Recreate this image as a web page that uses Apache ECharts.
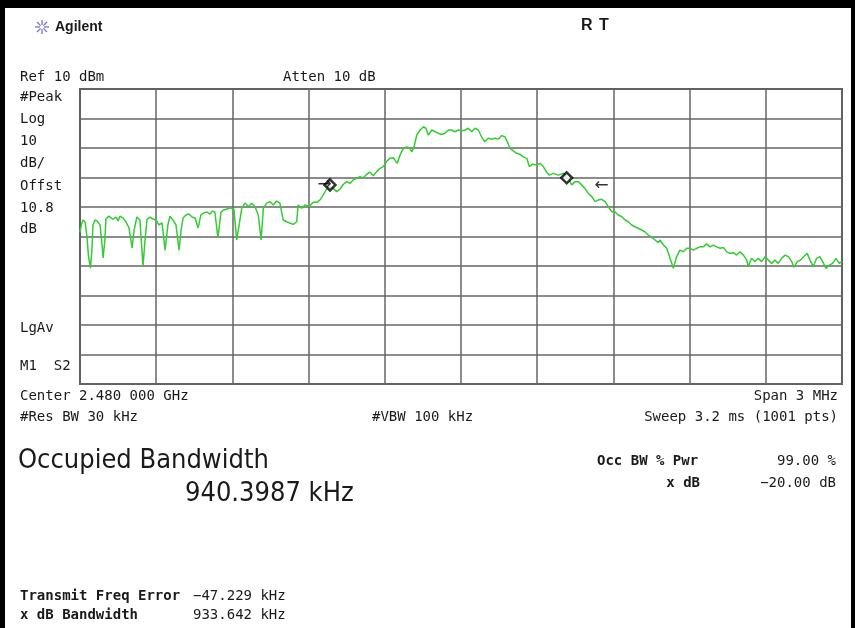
<!DOCTYPE html>
<html>
<head>
<meta charset="utf-8">
<script src="https://cdn.jsdelivr.net/npm/echarts@6/dist/echarts.min.js"></script>
<style>
html, body { margin: 0; padding: 0; background: #fff; }
#chart { width: 855px; height: 628px; }
</style>
</head>
<body>
<div id="chart"></div>
<script>
// sweep settings
const centerMHz = 2480;
const spanKHz = 3000;
const refLevel = 10;
const dbPerDiv = 10;

// trace (MHz, dBm)
const traceFreqMHz = [
  2478.500, 2478.506, 2478.512, 2478.520, 2478.528, 2478.533, 2478.541, 2478.547, 2478.551, 2478.559,
  2478.567, 2478.579, 2478.587, 2478.591, 2478.598, 2478.602, 2478.614, 2478.622, 2478.630, 2478.642,
  2478.650, 2478.657, 2478.669, 2478.681, 2478.693, 2478.705, 2478.713, 2478.724, 2478.736, 2478.748,
  2478.756, 2478.764, 2478.776, 2478.787, 2478.799, 2478.811, 2478.823, 2478.835, 2478.846, 2478.854,
  2478.866, 2478.878, 2478.890, 2478.898, 2478.906, 2478.917, 2478.929, 2478.941, 2478.953, 2478.965,
  2478.976, 2478.988, 2479.000, 2479.012, 2479.020, 2479.031, 2479.043, 2479.055, 2479.067, 2479.079,
  2479.091, 2479.098, 2479.106, 2479.117, 2479.137, 2479.150, 2479.163, 2479.176, 2479.189, 2479.202,
  2479.213, 2479.222, 2479.235, 2479.248, 2479.261, 2479.274, 2479.287, 2479.300, 2479.314, 2479.327,
  2479.340, 2479.353, 2479.359, 2479.373, 2479.386, 2479.402, 2479.418, 2479.432, 2479.445, 2479.458,
  2479.471, 2479.484, 2479.497, 2479.511, 2479.524, 2479.537, 2479.550, 2479.563, 2479.576, 2479.589,
  2479.602, 2479.615, 2479.629, 2479.642, 2479.655, 2479.668, 2479.681, 2479.694, 2479.707, 2479.720,
  2479.734, 2479.749, 2479.760, 2479.773, 2479.787, 2479.799, 2479.806, 2479.815, 2479.826, 2479.839,
  2479.852, 2479.862, 2479.871, 2479.885, 2479.898, 2479.911, 2479.924, 2479.937, 2479.950, 2479.963,
  2479.976, 2479.989, 2480.003, 2480.016, 2480.029, 2480.042, 2480.055, 2480.068, 2480.081, 2480.094,
  2480.107, 2480.121, 2480.134, 2480.147, 2480.160, 2480.173, 2480.182, 2480.193, 2480.206, 2480.219,
  2480.232, 2480.245, 2480.259, 2480.269, 2480.282, 2480.298, 2480.311, 2480.324, 2480.337, 2480.348,
  2480.363, 2480.383, 2480.403, 2480.422, 2480.436, 2480.449, 2480.462, 2480.475, 2480.488, 2480.501,
  2480.515, 2480.528, 2480.541, 2480.554, 2480.567, 2480.580, 2480.593, 2480.606, 2480.619, 2480.633,
  2480.646, 2480.659, 2480.672, 2480.685, 2480.698, 2480.711, 2480.724, 2480.737, 2480.751, 2480.764,
  2480.777, 2480.783, 2480.797, 2480.810, 2480.823, 2480.836, 2480.849, 2480.862, 2480.875, 2480.889,
  2480.902, 2480.915, 2480.928, 2480.941, 2480.954, 2480.967, 2480.980, 2480.993, 2481.007, 2481.020,
  2481.033, 2481.046, 2481.059, 2481.072, 2481.085, 2481.098, 2481.112, 2481.125, 2481.131, 2481.144,
  2481.157, 2481.170, 2481.184, 2481.197, 2481.210, 2481.223, 2481.236, 2481.249, 2481.262, 2481.276,
  2481.289, 2481.302, 2481.311, 2481.324, 2481.337, 2481.350, 2481.363, 2481.374, 2481.387, 2481.400,
  2481.413, 2481.424, 2481.437, 2481.450, 2481.463, 2481.476, 2481.489, 2481.499
];
const traceLevel = [
  -38.5, -35.8, -34.4, -35.1, -40.5, -46.3, -50.7, -44.6, -36.1, -34.4,
  -34.7, -36.1, -42.9, -47.3, -41.2, -34.1, -33.1, -33.7, -34.1, -33.4,
  -34.7, -33.1, -33.7, -35.1, -37.1, -43.9, -37.8, -33.4, -34.4, -50.0,
  -41.2, -34.1, -33.4, -34.1, -34.4, -36.1, -35.4, -44.6, -36.1, -33.1,
  -34.4, -36.1, -44.6, -37.8, -33.7, -32.7, -32.4, -33.4, -33.7, -37.1,
  -32.7, -32.0, -31.7, -32.4, -31.4, -31.7, -40.5, -31.7, -31.0, -30.7,
  -30.3, -30.0, -30.7, -41.2, -30.4, -28.6, -29.9, -28.7, -29.9, -32.7,
  -41.2, -30.4, -28.7, -28.2, -29.3, -28.0, -28.7, -34.4, -35.0, -35.5,
  -35.9, -35.0, -29.3, -30.4, -29.3, -29.9, -28.4, -28.4, -27.6, -25.9,
  -23.9, -23.1, -23.7, -24.8, -23.9, -22.3, -21.4, -22.0, -20.8, -20.3,
  -19.7, -20.1, -18.9, -18.2, -19.4, -18.0, -16.9, -16.3, -14.6, -13.5,
  -13.3, -15.2, -12.4, -10.1, -9.6, -10.1, -11.3, -9.6, -5.6, -3.9,
  -2.8, -3.3, -5.6, -3.9, -4.5, -5.0, -5.4, -5.0, -3.9, -3.9,
  -4.5, -3.9, -4.2, -3.9, -3.3, -4.5, -3.3, -3.9, -6.2, -7.9,
  -6.7, -7.0, -6.7, -7.0, -5.8, -6.2, -7.9, -10.1, -11.0, -11.8,
  -12.1, -13.0, -13.5, -16.3, -15.5, -15.8, -15.2, -16.3, -18.2, -19.2,
  -18.6, -19.2, -18.6, -20.3, -22.5, -21.4, -21.4, -22.5, -23.7, -25.4,
  -26.5, -28.2, -27.6, -27.4, -28.2, -29.9, -31.6, -31.6, -32.7, -33.3,
  -34.4, -35.0, -36.1, -36.7, -37.2, -37.8, -38.4, -39.5, -40.3, -41.2,
  -42.1, -41.2, -42.9, -44.0, -47.4, -50.8, -46.8, -44.6, -45.2, -44.0,
  -44.0, -44.6, -44.0, -43.5, -43.5, -42.5, -43.5, -42.9, -43.5, -44.0,
  -43.7, -45.2, -45.7, -45.5, -46.3, -45.2, -46.3, -48.0, -50.2, -47.4,
  -48.5, -47.4, -48.5, -46.8, -48.0, -49.1, -48.0, -49.1, -47.4, -46.3,
  -46.8, -48.5, -50.4, -48.5, -48.0, -46.8, -45.7, -48.0, -50.2, -47.4,
  -46.8, -48.5, -50.8, -49.7, -49.1, -47.4, -49.1, -48.5
];

// occupied bandwidth markers and arrows
const markerFreqMHz = [2479.484, 2480.416];
const markerLevel = [-22.5, -20.1];
const arrowFreqMHz = [2479.463, 2480.554];
const arrowLevel = [-22.5, -22.7];
const arrowText = ['→', '←'];

const toKHz = f => Math.round((f - centerMHz) * 1e6) / 1000;
const traceData = traceFreqMHz.map((f, i) => [toKHz(f), traceLevel[i]]);
const markerData = markerFreqMHz.map((f, i) => [toKHz(f), markerLevel[i]]);
const arrowData = arrowFreqMHz.map((f, i) => ({ value: [toKHz(f), arrowLevel[i]], label: { formatter: arrowText[i] } }));

const mono = '14px "DejaVu Sans Mono"';
const monoBold = 'bold 14px "DejaVu Sans Mono"';
const big = '27px "DejaVu Sans Condensed"';

function txt(x, y, text, font, align) {
  return {
    type: 'text', x: x, y: y, z: 10,
    style: { text: text, font: font, fill: '#1a1a1a', textAlign: align || 'left', textVerticalAlign: 'middle' }
  };
}

// logo spokes
const spokes = [];
for (let k = 0; k < 8; k++) {
  const a = k * Math.PI / 4;
  spokes.push({
    type: 'line', z: 10,
    shape: { x1: 42 + Math.cos(a) * 2, y1: 27 + Math.sin(a) * 2, x2: 42 + Math.cos(a) * 7, y2: 27 + Math.sin(a) * 7 },
    style: { stroke: '#6f78d8', lineWidth: 1.3 }
  });
}

const chart = echarts.init(document.getElementById('chart'));
chart.setOption({
  backgroundColor: '#fff',
  animation: false,
  grid: {
    left: 80, top: 89, right: 13, bottom: 244,
    show: true, borderColor: '#5a5a5a', borderWidth: 2, backgroundColor: 'transparent'
  },
  xAxis: {
    type: 'value', min: -spanKHz / 2, max: spanKHz / 2, interval: 300,
    axisLine: { show: false }, axisTick: { show: false }, axisLabel: { show: false },
    splitLine: { show: true, lineStyle: { color: '#666', width: 1.5 } }
  },
  yAxis: {
    type: 'value', min: refLevel - 10 * dbPerDiv, max: refLevel, interval: dbPerDiv,
    axisLine: { show: false }, axisTick: { show: false }, axisLabel: { show: false },
    splitLine: { show: true, lineStyle: { color: '#666', width: 1.5 } }
  },
  series: [
    {
      type: 'line', data: traceData, symbol: 'none', z: 3,
      lineStyle: { color: '#33cc33', width: 1.5 }
    },
    {
      type: 'scatter', data: markerData, symbol: 'diamond', symbolSize: 11, z: 5,
      itemStyle: { color: '#fff', borderColor: '#000', borderWidth: 2.5 }
    },
    {
      type: 'scatter', data: arrowData, symbol: 'circle', symbolSize: 2, z: 6,
      itemStyle: { color: 'rgba(0,0,0,0)' },
      label: { show: true, position: 'inside', color: '#000', fontSize: 17, fontFamily: 'DejaVu Sans' }
    }
  ],
  graphic: [
    { type: 'rect', shape: { x: 0, y: 0, width: 855, height: 8 }, style: { fill: '#000' }, z: 20 },
    { type: 'rect', shape: { x: 0, y: 0, width: 5, height: 628 }, style: { fill: '#000' }, z: 20 },
    { type: 'rect', shape: { x: 851, y: 0, width: 4, height: 628 }, style: { fill: '#000' }, z: 20 },
    ...spokes,
    txt(55, 27, 'Agilent', 'bold 14px "Liberation Sans"'),
    txt(581, 26, 'R', 'bold 16px "Liberation Sans"'),
    txt(599, 26, 'T', 'bold 16px "Liberation Sans"'),
    txt(20, 77, 'Ref 10 dBm', mono),
    txt(283, 77, 'Atten 10 dB', mono),
    txt(20, 97, '#Peak', mono),
    txt(20, 119, 'Log', mono),
    txt(20, 141, '10', mono),
    txt(20, 163, 'dB/', mono),
    txt(20, 186, 'Offst', mono),
    txt(20, 208, '10.8', mono),
    txt(20, 229, 'dB', mono),
    txt(20, 328, 'LgAv', mono),
    txt(20, 366, 'M1  S2', mono),
    txt(20, 396, 'Center 2.480 000 GHz', mono),
    txt(838, 396, 'Span 3 MHz', mono, 'right'),
    txt(20, 417, '#Res BW 30 kHz', mono),
    txt(372, 417, '#VBW 100 kHz', mono),
    txt(838, 417, 'Sweep 3.2 ms (1001 pts)', mono, 'right'),
    txt(18, 461, 'Occupied Bandwidth', big),
    txt(185, 494, '940.3987 kHz', big),
    txt(597, 461, 'Occ BW % Pwr', monoBold),
    txt(836, 461, '99.00 %', mono, 'right'),
    txt(700, 483, 'x dB', monoBold, 'right'),
    txt(836, 483, '−20.00 dB', mono, 'right'),
    txt(20, 596, 'Transmit Freq Error', monoBold),
    txt(193, 596, '−47.229 kHz', mono),
    txt(20, 615, 'x dB Bandwidth', monoBold),
    txt(193, 615, '933.642 kHz', mono)
  ]
});
</script>
</body>
</html>
